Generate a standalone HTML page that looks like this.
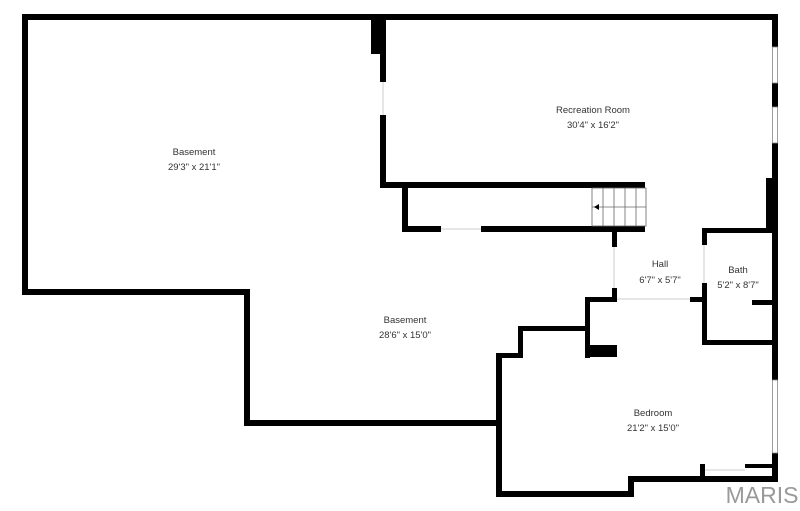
<!DOCTYPE html>
<html><head><style>
html,body{margin:0;padding:0;background:#fff;}
svg{display:block;}
text{font-family:"Liberation Sans",sans-serif;font-size:9.5px;fill:#333;text-anchor:middle;}
</style></head><body>
<svg width="800" height="511" viewBox="0 0 800 511" xmlns="http://www.w3.org/2000/svg">
<g fill="#000">
<!-- outer top -->
<rect x="22" y="14" width="756" height="6"/>
<!-- left -->
<rect x="22" y="14" width="6" height="281"/>
<rect x="22" y="289" width="228" height="6"/>
<rect x="244" y="289" width="6" height="137"/>
<rect x="244" y="420" width="258" height="6"/>
<!-- bedroom -->
<rect x="496" y="353" width="6" height="144"/>
<rect x="496" y="491" width="138" height="6"/>
<rect x="628" y="477" width="6" height="20"/>
<rect x="628" y="476" width="150" height="6"/>
<rect x="496" y="353" width="27" height="5"/>
<rect x="518" y="326" width="5" height="32"/>
<rect x="518" y="326" width="72" height="5"/>
<rect x="585" y="298" width="5" height="60"/>
<rect x="585" y="345" width="32" height="12"/>
<rect x="585" y="297" width="32" height="5"/>
<rect x="690" y="297" width="17" height="5"/>
<rect x="700" y="464" width="5" height="14"/>
<rect x="745" y="464" width="27" height="4"/>
<!-- right wall -->
<rect x="772" y="14" width="6" height="33"/>
<rect x="772" y="83" width="6" height="24"/>
<rect x="772" y="143" width="6" height="237"/>
<rect x="772" y="453" width="6" height="29"/>
<rect x="766" y="178" width="12" height="52"/>
<!-- rec room -->
<rect x="371" y="14" width="15" height="40"/>
<rect x="380" y="14" width="6" height="68"/>
<rect x="380" y="115" width="6" height="73"/>
<rect x="380" y="182" width="265" height="6"/>
<rect x="402" y="185" width="6" height="47"/>
<rect x="402" y="226" width="39" height="6"/>
<rect x="481" y="226" width="164" height="6"/>
<!-- hall -->
<rect x="612" y="229" width="5" height="18"/>
<rect x="612" y="288" width="5" height="12"/>
<!-- bath -->
<rect x="702" y="228" width="5" height="17"/>
<rect x="702" y="283" width="5" height="62"/>
<rect x="702" y="228" width="70" height="5"/>
<rect x="702" y="340" width="70" height="5"/>
<rect x="752" y="300" width="20" height="5"/>
</g>
<!-- windows -->
<g fill="#fff" stroke="#888" stroke-width="0.8">
<rect x="772.5" y="47" width="5" height="36"/>
<rect x="772.5" y="107" width="5" height="36"/>
<rect x="772.5" y="380" width="5" height="73"/>
</g>
<g stroke="#ccc" stroke-width="1">
<line x1="441" y1="229" x2="481" y2="229"/>
<line x1="617" y1="299" x2="690" y2="299"/>
<line x1="383" y1="82" x2="383" y2="115"/>
<line x1="614" y1="247" x2="614" y2="288"/>
<line x1="704" y1="245" x2="704" y2="283"/>
<line x1="705" y1="470" x2="745" y2="470"/>
</g>
<!-- stairs -->
<g stroke="#666" stroke-width="0.8" fill="none">
<rect x="592" y="188" width="54" height="38"/>
<line x1="603" y1="188" x2="603" y2="226"/>
<line x1="614" y1="188" x2="614" y2="226"/>
<line x1="625" y1="188" x2="625" y2="226"/>
<line x1="636" y1="188" x2="636" y2="226"/>
<line x1="592" y1="207" x2="646" y2="207"/>
</g>
<polygon points="594,207 599,204 599,210" fill="#000"/>
<text x="194" y="155">Basement</text>
<text x="194" y="170">29'3" x 21'1"</text>
<text x="593" y="113">Recreation Room</text>
<text x="593" y="128">30'4" x 16'2"</text>
<text x="405" y="323">Basement</text>
<text x="405" y="338">28'6" x 15'0"</text>
<text x="660" y="267">Hall</text>
<text x="660" y="283">6'7" x 5'7"</text>
<text x="738" y="273">Bath</text>
<text x="738" y="288">5'2" x 8'7"</text>
<text x="653" y="416">Bedroom</text>
<text x="653" y="431">21'2" x 15'0"</text>
<text x="762" y="503" style="font-size:23px;fill:#999;">MARIS</text>
</svg>
</body></html>
